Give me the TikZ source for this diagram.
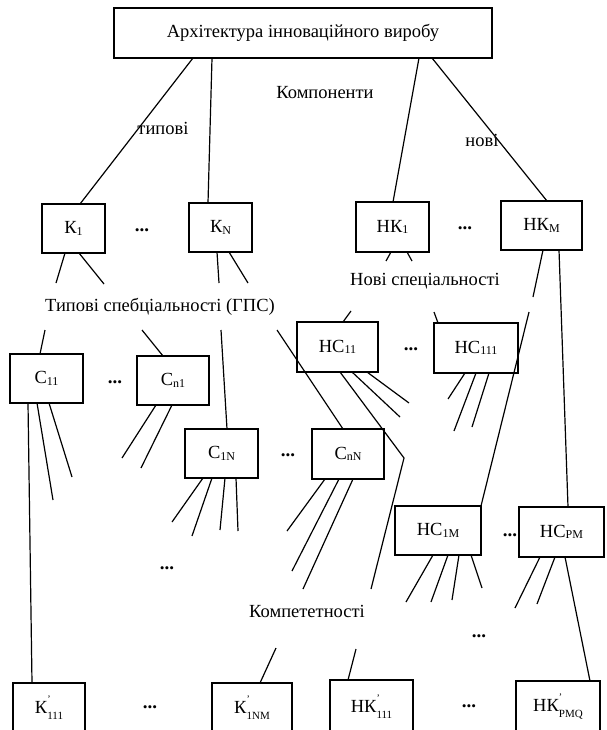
\documentclass[tikz,border=0pt]{standalone}
\usepackage{fontspec}
\setmainfont{Liberation Serif}
\newcommand\sbs[1]{\raisebox{-0.15ex}{\fontsize{12}{12}\selectfont #1}}
\newcommand\prsb[1]{\rlap{\raisebox{1.3ex}{\fontsize{10}{10}\selectfont '}}\raisebox{-0.7ex}{\fontsize{11}{11}\selectfont #1}}
\begin{document}
\begin{tikzpicture}[x=1pt,y=-1pt,
  box/.style={draw, line width=1.5pt, inner sep=0pt, outer sep=0pt, font=\fontsize{18.5}{22}\selectfont},
  ln/.style={line width=1.2pt},
  lbl/.style={inner sep=0pt, font=\fontsize{18.5}{22}\selectfont},
  dts/.style={inner sep=0pt, font=\fontsize{19}{22}\selectfont\bfseries}]
\useasboundingbox (0,0) rectangle (606,730);
\clip (0,0) rectangle (606,730);
\fill[white] (0,0) rectangle (606,730);
% boxes
\node[box, minimum width=378pt, minimum height=50pt] (top) at (303,33) {Архітектура інноваційного виробу};
\node[box, minimum width=63pt, minimum height=49pt] (k1) at (73.5,228.5) {К\sbs{1}};
\node[box, minimum width=63pt, minimum height=49pt] (kN) at (220.5,227.5) {К\sbs{N}};
\node[box, minimum width=73pt, minimum height=50pt] (hk1) at (392.5,227) {НК\sbs{1}};
\node[box, minimum width=81pt, minimum height=49pt] (hkM) at (541.5,225.5) {НК\sbs{M}};
\node[box, minimum width=73pt, minimum height=49pt] (c11) at (46.5,378.5) {С\sbs{11}};
\node[box, minimum width=72pt, minimum height=49pt] (cn1) at (173,380.5) {С\sbs{n1}};
\node[box, minimum width=81pt, minimum height=50pt] (hc11) at (337.5,347) {НС\sbs{11}};
\node[box, minimum width=84pt, minimum height=50pt] (hc111) at (476,348) {НС\sbs{111}};
\node[box, minimum width=73pt, minimum height=49pt] (c1N) at (221.5,453.5) {С\sbs{1N}};
\node[box, minimum width=72pt, minimum height=50pt] (cnN) at (348,454) {С\sbs{nN}};
\node[box, minimum width=86pt, minimum height=49pt] (hc1M) at (438,530.5) {НС\sbs{1M}};
\node[box, minimum width=85pt, minimum height=50pt] (hcPM) at (561.5,532) {НС\sbs{PM}};
\node[box, minimum width=72pt, minimum height=50pt] (k111) at (49,708) {К\prsb{111}};
\node[box, minimum width=80pt, minimum height=50pt] (k1NM) at (252,708) {К\prsb{1NM}};
\node[box, minimum width=83pt, minimum height=53pt] (hk111) at (371.5,706.5) {НК\prsb{111}};
\node[box, minimum width=84pt, minimum height=52pt] (hkPMQ) at (558,707) {НК\prsb{PMQ}};
% labels
\node[lbl] (lkomp) at (325,93) {Компоненти};
\node[lbl] (ltyp) at (163,128) {типові};
\node[lbl] (lnov) at (482,140) {нові};
\node[lbl] (lgps) at (160,307) {Типові спебціальності (ГПС)};
\node[lbl] (lns) at (425,281) {Нові спеціальності};
\node[lbl] (lkmp) at (307,611) {Компететності};
% dots
\node[dts] (d1) at (142,230) {...};
\node[dts] (d2) at (465,228) {...};
\node[dts] (d3) at (115,382) {...};
\node[dts] (d4) at (411,349) {...};
\node[dts] (d5) at (288,455) {...};
\node[dts] (d6) at (167,568) {...};
\node[dts] (d7) at (510,535) {...};
\node[dts] (d8) at (479,636) {...};
\node[dts] (d9) at (150,707) {...};
\node[dts] (d10) at (469,706) {...};
% free ends
\coordinate (k1a) at (56,283);
\coordinate (k1b) at (104,284);
\coordinate (kNa) at (219,283);
\coordinate (kNb) at (248,283);
\coordinate (gA) at (45,330);
\coordinate (gB) at (142,330);
\coordinate (gC) at (221,330);
\coordinate (gD) at (277,330);
\coordinate (hk1a) at (386,261);
\coordinate (hk1b) at (412,261);
\coordinate (nA) at (351,311);
\coordinate (nB) at (434,312);
\coordinate (hkMa) at (533,297);
\coordinate (hkMa2) at (529,312);
\coordinate (hc11bend) at (404,458);
\coordinate (hc11end) at (371,589);
\coordinate (hc11b) at (400,417);
\coordinate (hc11c) at (409,403);
\coordinate (hc111a) at (448,399);
\coordinate (hc111b) at (454,431);
\coordinate (hc111c) at (472,427);
\coordinate (c11b) at (53,500);
\coordinate (c11c) at (72,477);
\coordinate (cn1a) at (122,458);
\coordinate (cn1b) at (141,468);
\coordinate (c1Na) at (172,522);
\coordinate (c1Nb) at (192,536);
\coordinate (c1Nc) at (220,530);
\coordinate (c1Nd) at (238,531);
\coordinate (cnNa) at (287,531);
\coordinate (cnNb) at (292,571);
\coordinate (cnNc) at (303,589);
\coordinate (hc1Ma) at (406,602);
\coordinate (hc1Mb) at (431,602);
\coordinate (hc1Mc) at (452,600);
\coordinate (hc1Md) at (482,588);
\coordinate (hcPMa) at (515,608);
\coordinate (hcPMb) at (537,604);
\coordinate (kA) at (276,648);
\coordinate (kB) at (356,649);
% connectors from top
\draw[ln] ([xshift=79]top.south west) -- ([xshift=38]k1.north west);
\draw[ln] ([xshift=98]top.south west) -- ([xshift=19]kN.north west);
\draw[ln] ([xshift=305]top.south west) -- ([xshift=37]hk1.north west);
\draw[ln] ([xshift=318]top.south west) -- ([xshift=46]hkM.north west);
% K boxes
\draw[ln] ([xshift=23]k1.south west) -- (k1a);
\draw[ln] ([xshift=37]k1.south west) -- (k1b);
\draw[ln] ([xshift=28]kN.south west) -- (kNa);
\draw[ln] ([xshift=40]kN.south west) -- (kNb);
\draw[ln] (gA) -- ([xshift=30]c11.north west);
\draw[ln] (gB) -- ([xshift=26]cn1.north west);
\draw[ln] (gC) -- ([xshift=42]c1N.north west);
\draw[ln] (gD) -- ([xshift=31]cnN.north west);
% HK boxes
\draw[ln] ([xshift=35]hk1.south west) -- (hk1a);
\draw[ln] ([xshift=51]hk1.south west) -- (hk1b);
\draw[ln] (nA) -- ([xshift=46]hc11.north west);
\draw[ln] (nB) -- ([xshift=4]hc111.north west);
\draw[ln] ([xshift=42]hkM.south west) -- (hkMa);
\draw[ln] (hkMa2) -- (hc1M.north east);
\draw[ln] ([xshift=58]hkM.south west) -- ([xshift=49]hcPM.north west);
% HC11, HC111
\draw[ln] ([xshift=43]hc11.south west) -- (hc11bend) -- (hc11end);
\draw[ln] ([xshift=55]hc11.south west) -- (hc11b);
\draw[ln] ([xshift=70]hc11.south west) -- (hc11c);
\draw[ln] ([xshift=31]hc111.south west) -- (hc111a);
\draw[ln] ([xshift=42]hc111.south west) -- (hc111b);
\draw[ln] ([xshift=55]hc111.south west) -- (hc111c);
% C boxes
\draw[ln] ([xshift=18]c11.south west) -- ([xshift=19]k111.north west);
\draw[ln] ([xshift=27]c11.south west) -- (c11b);
\draw[ln] ([xshift=39]c11.south west) -- (c11c);
\draw[ln] ([xshift=19]cn1.south west) -- (cn1a);
\draw[ln] ([xshift=35]cn1.south west) -- (cn1b);
\draw[ln] ([xshift=18]c1N.south west) -- (c1Na);
\draw[ln] ([xshift=27]c1N.south west) -- (c1Nb);
\draw[ln] ([xshift=40]c1N.south west) -- (c1Nc);
\draw[ln] ([xshift=51]c1N.south west) -- (c1Nd);
\draw[ln] ([xshift=13]cnN.south west) -- (cnNa);
\draw[ln] ([xshift=27]cnN.south west) -- (cnNb);
\draw[ln] ([xshift=41]cnN.south west) -- (cnNc);
% HC1M, HCPM
\draw[ln] ([xshift=38]hc1M.south west) -- (hc1Ma);
\draw[ln] ([xshift=53]hc1M.south west) -- (hc1Mb);
\draw[ln] ([xshift=64]hc1M.south west) -- (hc1Mc);
\draw[ln] ([xshift=76]hc1M.south west) -- (hc1Md);
\draw[ln] ([xshift=21]hcPM.south west) -- (hcPMa);
\draw[ln] ([xshift=36]hcPM.south west) -- (hcPMb);
\draw[ln] ([xshift=46]hcPM.south west) -- ([xshift=74]hkPMQ.north west);
% bottom stubs
\draw[ln] (kA) -- ([xshift=48]k1NM.north west);
\draw[ln] (kB) -- ([xshift=18]hk111.north west);
\end{tikzpicture}
\end{document}
